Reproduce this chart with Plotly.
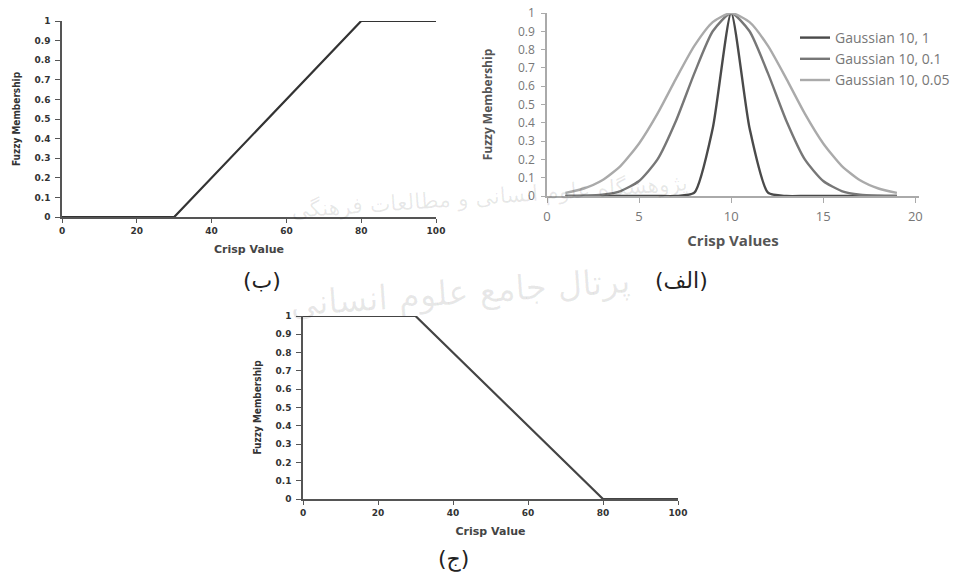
import plotly.graph_objects as go

# ---------------- data ----------------
# (ب) increasing trapezoid
inc_x = [0, 30, 80, 100]
inc_y = [0, 0, 1, 1]
# (ج) decreasing trapezoid
dec_x = [0, 30, 80, 100]
dec_y = [1, 1, 0, 0]
# (الف) gaussian curves
g_x = [1, 2, 3, 4, 5, 6, 7, 8, 9, 10, 11, 12, 13, 14, 15, 16, 17, 18, 19]
g_1 = [0, 0, 0, 0, 0, 0, 0, 0.018, 0.37, 1, 0.37, 0.018, 0, 0, 0, 0, 0, 0, 0]
g_01 = [0.0003, 0.002, 0.007, 0.027, 0.082, 0.2, 0.41, 0.67, 0.9, 1, 0.9, 0.67,
        0.41, 0.2, 0.082, 0.027, 0.007, 0.002, 0.0003]
g_005 = [0.017, 0.041, 0.086, 0.165, 0.287, 0.45, 0.64, 0.82, 0.95, 1, 0.95, 0.82,
         0.64, 0.45, 0.287, 0.165, 0.086, 0.041, 0.017]
g_names = ["Gaussian 10, 1", "Gaussian 10, 0.1", "Gaussian 10, 0.05"]
y_ticks = [0, 0.1, 0.2, 0.3, 0.4, 0.5, 0.6, 0.7, 0.8, 0.9, 1]

W, H = 960, 580

def px(x):
    return x / W

def py(y):
    return 1 - y / H

fig = go.Figure()

# left top
fig.add_trace(go.Scatter(x=inc_x, y=inc_y, mode="lines", xaxis="x", yaxis="y",
                         line=dict(color="#333333", width=2.2), showlegend=False))
# bottom
fig.add_trace(go.Scatter(x=dec_x, y=dec_y, mode="lines", xaxis="x3", yaxis="y3",
                         line=dict(color="#444444", width=2.2), showlegend=False))
# right top gaussians
g_cols = ["#4a4a4a", "#777777", "#aaaaaa"]
for vals, name, c in zip([g_1, g_01, g_005], g_names, g_cols):
    fig.add_trace(go.Scatter(x=g_x, y=vals, mode="lines", name=name, xaxis="x2", yaxis="y2",
                             line=dict(color=c, width=2.4, shape="spline", smoothing=0.6)))

small_bold = dict(family="DejaVu Sans", size=9, color="#333333", weight="bold")
narrow = dict(family="Liberation Sans Narrow, DejaVu Sans Condensed, Liberation Sans", size=10,
              color="#333333", weight="bold")

def left_style_x(domain, anchor):
    return dict(domain=domain, anchor=anchor, range=[0, 100], tickvals=[0, 20, 40, 60, 80, 100],
                showline=True, linecolor="#555555", linewidth=1.5, ticks="outside", ticklen=4,
                tickcolor="#555555", showgrid=False, zeroline=False, tickfont=small_bold,
                ticklabelstandoff=0, automargin=False,
                title=dict(text="Crisp Value", standoff=11,
                           font=dict(family="DejaVu Sans", size=11, color="#444444",
                                     weight="bold")))

def left_style_y(domain, anchor):
    return dict(domain=domain, anchor=anchor, range=[0, 1], tickvals=y_ticks,
                showline=True, linecolor="#555555", linewidth=1.5, ticks="outside", ticklen=5,
                tickcolor="#555555", showgrid=False, zeroline=False, tickfont=small_bold,
                ticklabelstandoff=3, automargin=False,
                title=dict(text="Fuzzy Membership", standoff=12, font=narrow))

fig.update_layout(
    width=W, height=H,
    margin=dict(l=0, r=0, t=0, b=0),
    paper_bgcolor="white", plot_bgcolor="white",
    xaxis=left_style_x([px(62), px(436)], "y"),
    yaxis=left_style_y([py(217), py(21)], "x"),
    xaxis3=left_style_x([px(303), px(678)], "y3"),
    yaxis3=left_style_y([py(499), py(316)], "x3"),
    xaxis2=dict(domain=[px(547), px(919)], anchor="y2", range=[0, 20.2],
                tickvals=[0, 5, 10, 15, 20], showline=True, linecolor="#aaaaaa", linewidth=1.5,
                ticks="outside", ticklen=5, tickcolor="#aaaaaa", showgrid=False, zeroline=False,
                ticklabelstandoff=3, automargin=False,
                tickfont=dict(family="Open Sans", size=13, color="#777777"),
                title=dict(text="Crisp Values", standoff=11,
                           font=dict(family="Open Sans", size=15, color="#555555",
                                     weight="bold"))),
    yaxis2=dict(domain=[py(196), py(13)], anchor="x2", range=[0, 1], tickvals=y_ticks,
                showline=True, linecolor="#aaaaaa", linewidth=1.5, ticks="outside", ticklen=4,
                tickcolor="#aaaaaa", showgrid=False, zeroline=False, ticklabelstandoff=4,
                automargin=False,
                tickfont=dict(family="Open Sans", size=12, color="#777777"),
                title=dict(text="Fuzzy Membership", standoff=23,
                           font=dict(family="Open Sans", size=12, color="#555555",
                                     weight="bold"))),
    legend=dict(x=px(795), y=py(22), xanchor="left", yanchor="top",
                bgcolor="rgba(0,0,0,0)", tracegroupgap=0, itemwidth=30,
                font=dict(family="Open Sans", size=14, color="#777777")),
    showlegend=True,
)

# faint background watermark text
for txt, x, y, s in [("پژوهشگاه علوم انسانی و مطالعات فرهنگی", 490, 197, 22),
                     ("پرتال جامع علوم انسانی", 460, 292, 34)]:
    fig.add_annotation(text=txt, x=px(x), y=py(y), xref="paper", yref="paper",
                       xanchor="center", yanchor="middle", showarrow=False, textangle=-4,
                       font=dict(family="DejaVu Sans", size=s, color="rgba(0,0,0,0.09)"))

for txt, x, y in [("(ب)", 262, 280), ("(الف)", 681, 280), ("(ج)", 453, 559)]:
    fig.add_annotation(text=txt, x=px(x), y=py(y), xref="paper", yref="paper",
                       xanchor="center", yanchor="middle",
                       showarrow=False, font=dict(family="DejaVu Sans", size=22,
                                                  color="#222222"))

fig.write_html("out.html", config={"displayModeBar": False},
               post_script="document.body.style.margin='0';document.body.style.overflow='hidden';")
